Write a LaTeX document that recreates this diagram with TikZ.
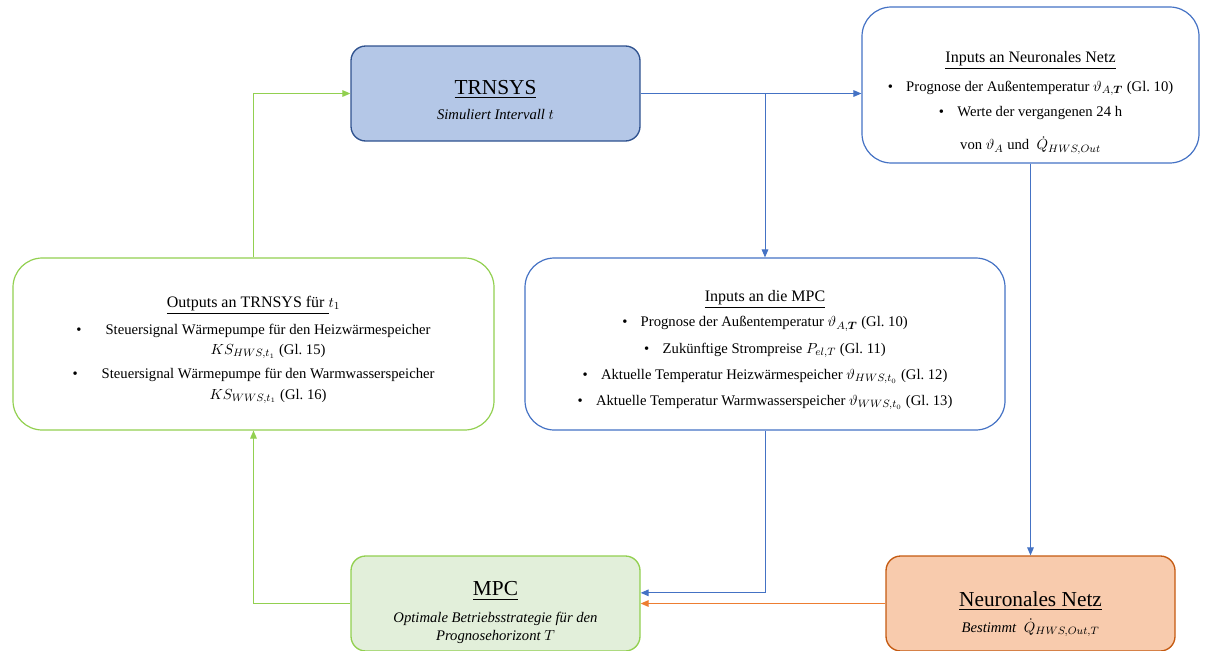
\documentclass[tikz,border=0pt]{standalone}
\usepackage{fontspec}
\setmainfont{Liberation Serif}
\usepackage{amsmath,bm}
\usetikzlibrary{arrows.meta,positioning}

\definecolor{trnsysfill}{HTML}{B4C7E7}
\definecolor{trnsysdraw}{HTML}{2F528F}
\definecolor{blueline}{HTML}{4472C4}
\definecolor{greenline}{HTML}{92D050}
\definecolor{mpcfill}{HTML}{E2EFDA}
\definecolor{nnfill}{HTML}{F8CBAD}
\definecolor{nndraw}{HTML}{C55A11}
\definecolor{orangeline}{HTML}{ED7D31}

\tikzset{
  block/.style={draw, line width=1pt, rounded corners=11pt, align=center, inner sep=0pt,
    minimum width=216.75pt, minimum height=71.25pt, font=\fontsize{11}{13.2}\selectfont},
  infobox/.style={draw, line width=0.9pt, rounded corners=22pt, align=center, inner sep=0pt,
    font=\fontsize{11}{13.2}\selectfont},
  flow/.style={line width=0.75pt, -{Triangle[length=6pt,width=5pt]}},
}
\newcommand{\bigtitle}[1]{{\fontsize{16}{19}\selectfont\underline{#1}}}
\newcommand{\boxtitle}[1]{{\fontsize{12}{14}\selectfont\underline{#1}}}

\begin{document}
\begin{tikzpicture}[x=0.75pt,y=-0.75pt]
\useasboundingbox (0,0) rectangle (1205,650);

% main blocks
\node[block, fill=trnsysfill, draw=trnsysdraw] (trnsys) at (495.5,93.5)
  {\rule{0pt}{20pt}\bigtitle{TRNSYS}\\[5.5pt]\textit{Simuliert Intervall $t$}};
\node[block, fill=mpcfill, draw=greenline] (mpc) at (495.5,603.5)
  {\rule{0pt}{24pt}\bigtitle{MPC}\\[7pt]\textit{Optimale Betriebsstrategie für den}\\\textit{Prognosehorizont $T$}};
\node[block, fill=nnfill, draw=nndraw] (nn) at (1030.5,603.5)
  {\rule{0pt}{27pt}\bigtitle{Neuronales Netz}\\[5pt]\textit{Bestimmt}\ \ $\dot{Q}_{HWS,Out,T}$};

% info boxes
\node[infobox, draw=blueline, minimum width=252.75pt, minimum height=117pt] (innn) at (1030.5,85)
  {\rule{0pt}{35pt}\boxtitle{Inputs an Neuronales Netz}\\[8.5pt]
   \textbullet\hspace{10pt}Prognose der Außentemperatur $\vartheta_{A,\bm{T}}$ (Gl.~10)\\[5.5pt]
   \textbullet\hspace{10pt}Werte der vergangenen 24 h\\[12pt]
   von $\vartheta_{A}$ und\ \ $\dot{Q}_{HWS,Out}$};
\node[infobox, draw=greenline, minimum width=360.75pt, minimum height=129pt] (out) at (253.5,344)
  {\rule{0pt}{18pt}\boxtitle{Outputs an TRNSYS für\ }$t_1$\\[5pt]
   \textbullet\hspace{18pt}\begin{tabular}[t]{@{}c@{}}Steuersignal Wärmepumpe für den Heizwärmespeicher\\[2pt] $KS_{HWS,t_1}$ (Gl.~15)\end{tabular}\\[4pt]
   \textbullet\hspace{18pt}\begin{tabular}[t]{@{}c@{}}Steuersignal Wärmepumpe für den Warmwasserspeicher\\[2pt] $KS_{WWS,t_1}$ (Gl.~16)\end{tabular}};
\node[infobox, draw=blueline, minimum width=360pt, minimum height=129pt] (inmpc) at (765,344)
  {\rule{0pt}{18pt}\boxtitle{Inputs an die MPC}\\[5.5pt]
   \textbullet\hspace{10pt}Prognose der Außentemperatur $\vartheta_{A,\bm{T}}$ (Gl.~10)\\[6.5pt]
   \textbullet\hspace{10pt}Zukünftige Strompreise $P_{el,T}$ (Gl.~11)\\[6.5pt]
   \textbullet\hspace{10pt}Aktuelle Temperatur Heizwärmespeicher $\vartheta_{HWS,t_0}$ (Gl.~12)\\[6.5pt]
   \textbullet\hspace{10pt}Aktuelle Temperatur Warmwasserspeicher $\vartheta_{WWS,t_0}$ (Gl.~13)};

% connectors
\draw[flow, greenline] (out.north) |- (trnsys.west);
\draw[flow, greenline] (mpc.west) -| (out.south);
\draw[flow, blueline] (trnsys.east) -- (trnsys.east -| innn.west);
\draw[flow, blueline] (trnsys.east -| inmpc.north) -- (inmpc.north);
\draw[flow, blueline] (innn.south) -- (nn.north);
\draw[flow, blueline] (inmpc.south) |- ([yshift=8pt]mpc.east);
\draw[flow, orangeline] (nn.west) -- (mpc.east);

\end{tikzpicture}
\end{document}
